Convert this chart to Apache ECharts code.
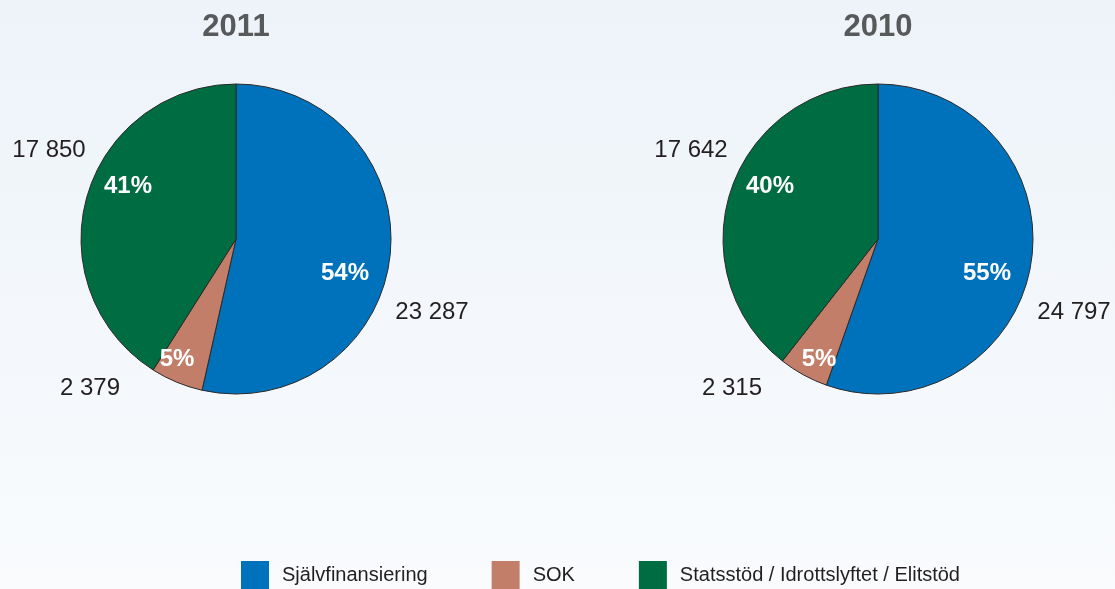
<!DOCTYPE html>
<html>
<head>
<meta charset="utf-8">
<script src="https://cdn.jsdelivr.net/npm/echarts@6/dist/echarts.min.js"></script>
<style>
  html, body { margin: 0; padding: 0; }
  #main { width: 1115px; height: 589px; }
</style>
</head>
<body>
<div id="main"></div>
<script>
// kategorier och värden (tkr)
var categories = ['Självfinansiering', 'SOK', 'Statsstöd / Idrottslyftet / Elitstöd'];
var years = ['2011', '2010'];
var values2011 = [23287, 2379, 17850];
var values2010 = [24797, 2315, 17642];
var pct2011 = [54, 5, 41];
var pct2010 = [55, 5, 40];

var colors = ['#0072bc', '#c27e69', '#006c42'];
var centers = [[236, 239], [878, 239]];
var radius = 155;
// label offsets from pie centre, per category
var pctOffset = [[109, 34], [-59, 120], [-108, -53]];
var valOffset = [[196, 73], [-146, 149], [-187, -89]];

function fmt(v) {
  return String(v).replace(/\B(?=(\d{3})+(?!\d))/g, ' ');
}

var valueSets = [values2011, values2010];
var pctSets = [pct2011, pct2010];

var series = [];
var titles = [];
years.forEach(function (y, i) {
  var c = centers[i];
  titles.push({
    text: y,
    left: c[0],
    top: 12,
    padding: 0,
    textAlign: 'center',
    textStyle: { fontFamily: "'Liberation Sans', Arial, sans-serif", fontSize: 31, fontWeight: 'bold', color: '#58595b' }
  });
  // slices + percentage labels
  series.push({
    type: 'pie',
    center: c,
    radius: radius,
    startAngle: 90,
    clockwise: true,
    silent: true,
    animation: false,
    itemStyle: { borderColor: '#2a2a2a', borderWidth: 1 },
    label: {
      show: true,
      position: 'inside',
      color: '#ffffff',
      fontFamily: "'Liberation Sans', Arial, sans-serif",
      fontWeight: 'bold',
      fontSize: 24,
      formatter: function (p) { return pctSets[i][p.dataIndex] + '%'; }
    },
    labelLine: { show: false },
    labelLayout: function (p) {
      var o = pctOffset[p.dataIndex];
      return { x: c[0] + o[0], y: c[1] + o[1], align: 'center', verticalAlign: 'middle' };
    },
    data: valueSets[i].map(function (v, k) {
      return { name: categories[k], value: v, itemStyle: { color: colors[k] } };
    })
  });
  // transparent copy carrying the amount labels
  series.push({
    type: 'pie',
    center: c,
    radius: radius,
    startAngle: 90,
    clockwise: true,
    silent: true,
    animation: false,
    itemStyle: { color: 'transparent', borderWidth: 0 },
    label: {
      show: true,
      position: 'inside',
      color: '#231f20',
      fontFamily: "'Liberation Sans', Arial, sans-serif",
      fontSize: 24,
      formatter: function (p) { return fmt(p.value); }
    },
    labelLine: { show: false },
    labelLayout: function (p) {
      var o = valOffset[p.dataIndex];
      return { x: c[0] + o[0], y: c[1] + o[1], align: 'center', verticalAlign: 'middle' };
    },
    data: valueSets[i].map(function (v) { return { name: '', value: v }; })
  });
});

var myChart = echarts.init(document.getElementById('main'));
myChart.setOption({
  backgroundColor: {
    type: 'linear', x: 0, y: 0, x2: 0, y2: 1,
    colorStops: [{ offset: 0, color: '#edf3f9' }, { offset: 1, color: '#f9fbfd' }]
  },
  title: titles,
  legend: {
    data: categories,
    left: 241,
    top: 561,
    padding: 0,
    itemWidth: 28,
    itemHeight: 28,
    itemGap: 64,
    icon: 'rect',
    selectedMode: false,
    itemStyle: { borderWidth: 0 },
    textStyle: { fontFamily: "'Liberation Sans', Arial, sans-serif", fontSize: 20, color: '#231f20', padding: [0, 0, 0, 8] }
  },
  series: series
});
</script>
</body>
</html>
